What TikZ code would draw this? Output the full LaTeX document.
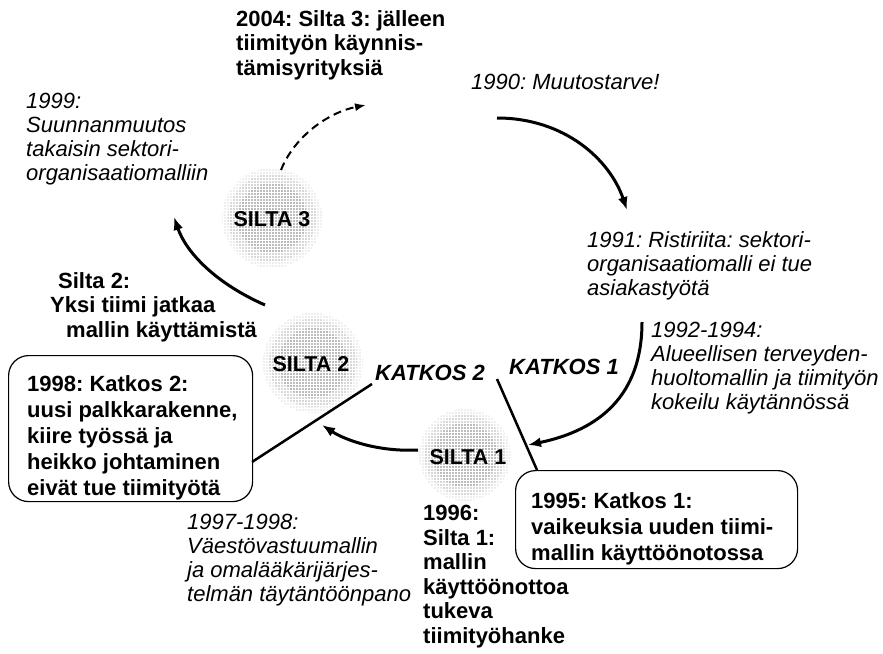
\documentclass[tikz,border=0pt]{standalone}
\usepackage{fontspec}
\setmainfont{Liberation Sans}
\usetikzlibrary{arrows.meta,patterns}
\frenchspacing
% fine dot raster for the bridge discs
\pgfdeclarepatternformonly{fdots}{\pgfqpoint{-1pt}{-1pt}}{\pgfqpoint{1pt}{1pt}}{\pgfqpoint{3pt}{3pt}}{%
  \pgfpathcircle{\pgfqpoint{0pt}{0pt}}{.62pt}\pgfusepath{fill}}
\begin{document}
\begin{tikzpicture}[x=1pt,y=-1pt,
  txt/.style={anchor=north west,inner sep=0pt,align=left},
  ital/.style={txt,font=\fontsize{22}{24}\selectfont\itshape},
  bold/.style={txt,font=\fontsize{22}{24.5}\selectfont\bfseries},
  boxtxt/.style={txt,font=\fontsize{22}{26}\selectfont\bfseries},
  bridge/.style={circle,inner sep=0pt,font=\fontsize{21.5}{24}\selectfont\bfseries},
  break/.style={inner sep=0pt,font=\fontsize{22}{24}\selectfont\bfseries\itshape},
  box/.style={draw,line width=1.2pt,rounded corners=20pt,anchor=north west,inner sep=0pt},
  flow/.style={line width=3pt,-{Latex[length=13pt,width=10pt]}},
  cut/.style={line width=2.5pt},
  dotsoft/.style={pattern=fdots,pattern color=black!28},
  dotmid/.style={pattern=fdots,pattern color=black!45},
  dotcore/.style={pattern=fdots,pattern color=black!62}]
\useasboundingbox (0,0) rectangle (883,653);

% dotted bridge discs, darker toward the middle
\foreach \cx/\cy/\r in {272/218/50, 313/363/50, 465/455/46}{
  \fill[dotsoft] (\cx,\cy) circle (\r);
  \fill[dotmid] (\cx,\cy) circle ({\r*0.88});
  \fill[dotcore] (\cx,\cy) circle ({\r*0.7});
}
\node[bridge,minimum size=100pt] (s3) at (272,219) {SILTA 3};
\node[bridge,minimum size=100pt] (s2) at (311,364) {SILTA 2};
\node[bridge,minimum size=92pt]  (s1) at (468,457) {SILTA 1};

% event texts
\node[bold] (t2004) at (236,10) {2004: Silta 3: jälleen\\tiimityön käynnis-\\tämisyrityksiä};
\node[ital] (t1990) at (471,74) {1990: Muutostarve!};
\node[ital] (t1999) at (26,93) {1999:\\Suunnanmuutos\\takaisin sektori-\\organisaatiomalliin};
\node[ital] (t1991) at (587,231) {1991: Ristiriita: sektori-\\organisaatiomalli ei tue\\asiakastyötä};
\node[bold] (tsilta2) at (50,272) {\hspace*{8pt}Silta 2:\\Yksi tiimi jatkaa\\\hspace*{16pt}mallin käyttämistä};
\node[ital] (t1992) at (651,322) {1992-1994:\\Alueellisen terveyden-\\huoltomallin ja tiimityön\\kokeilu käytännössä};
\node[ital] (t1997) at (187,514) {1997-1998:\\Väestövastuumallin\\ja omalääkärijärjes-\\telmän täytäntöönpano};
\node[bold] (t1996) at (423,505) {1996:\\Silta 1:\\mallin\\käyttöönottoa\\tukeva\\tiimityöhanke};

% breaks
\node[break,anchor=west] (k2) at (375,373) {KATKOS 2};
\node[break,anchor=west] (k1) at (509,367) {KATKOS 1};
\node[box,minimum width=244pt,minimum height=146pt] (k2box) at (8,355) {};
\node[boxtxt] (k2txt) at (27,375)
  {1998: Katkos 2:\\uusi palkkarakenne,\\kiire työssä ja\\heikko johtaminen\\eivät tue tiimityötä};
\node[box,minimum width=282pt,minimum height=98pt] (k1box) at (515,470) {};
\node[boxtxt] (k1txt) at (531,492)
  {1995: Katkos 1:\\vaikeuksia uuden tiimi-\\mallin käyttöönotossa};

% cut lines
\coordinate (k1top) at (497,379);
\coordinate (k1foot) at (537,470);
\coordinate (k2top) at (372,384);
\coordinate (k2foot) at (252,462);
\draw[cut] (k1top) -- (k1foot);
\draw[cut] (k2foot) -- (k2top);

% cycle arrows
\coordinate (a1s) at (497,118);
\coordinate (a1e) at (627,210);
\coordinate (a2s) at (642,322);
\coordinate (a2e) at (528,445);
\coordinate (a3s) at (418,450);
\coordinate (a3e) at (322,425);
\coordinate (a4s) at (265,305);
\coordinate (a4e) at (174,217);
\coordinate (a5s) at (281,170);
\coordinate (a5e) at (366,105);
\draw[flow] (a1s) .. controls (565,118) and (610,160) .. (a1e);
\draw[flow] (a2s) .. controls (642,395) and (600,430) .. (a2e);
\draw[flow] (a3s) .. controls (378,452) and (345,440) .. (a3e);
\draw[flow] (a4s) .. controls (215,283) and (186,252) .. (a4e);
\draw[line width=2pt,dash pattern=on 8pt off 5pt,-{Latex[length=11pt,width=8pt]}]
  (a5s) .. controls (295,135) and (330,112) .. (a5e);
\end{tikzpicture}
\end{document}
